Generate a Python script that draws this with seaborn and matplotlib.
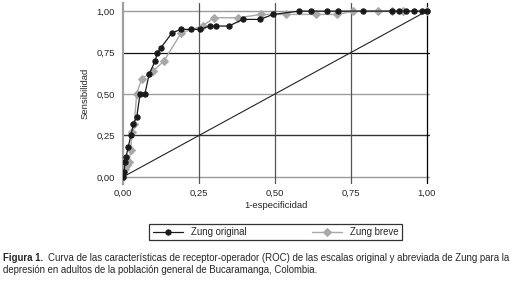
import numpy as np
import pandas as pd
import matplotlib
matplotlib.use("Agg")
import matplotlib.pyplot as plt
import seaborn as sns

# ROC points (1-especificidad, sensibilidad)
fpr_original = [0.0, 0.003, 0.007, 0.010, 0.017, 0.026, 0.034, 0.045, 0.045, 0.056, 0.072,
                0.086, 0.106, 0.113, 0.125, 0.162, 0.192, 0.223, 0.253, 0.286, 0.307, 0.349,
                0.394, 0.451, 0.494, 0.580, 0.618, 0.673, 0.708, 0.790, 0.884, 0.909, 0.933,
                0.958, 0.983, 1.0]
sens_original = [0.0, 0.03, 0.09, 0.12, 0.18, 0.25, 0.32, 0.35, 0.37, 0.50, 0.50,
                 0.62, 0.70, 0.75, 0.78, 0.87, 0.89, 0.89, 0.89, 0.91, 0.91, 0.91,
                 0.95, 0.95, 0.98, 1.0, 1.0, 1.0, 1.0, 1.0, 1.0, 1.0, 1.0,
                 1.0, 1.0, 1.0]

fpr_breve = [0.0, 0.005, 0.012, 0.020, 0.025, 0.030, 0.037, 0.045, 0.061, 0.100, 0.135,
             0.192, 0.262, 0.299, 0.379, 0.455, 0.536, 0.637, 0.706, 0.758, 0.840, 0.884,
             0.922, 1.0]
sens_breve = [0.0, 0.05, 0.07, 0.09, 0.16, 0.27, 0.32, 0.50, 0.59, 0.64, 0.70,
              0.87, 0.91, 0.96, 0.96, 0.98, 0.98, 0.98, 0.98, 1.0, 1.0, 1.0,
              1.0, 1.0]

ticks = [0.0, 0.25, 0.5, 0.75, 1.0]
tick_labels = ["0,00", "0,25", "0,50", "0,75", "1,00"]

df_orig = pd.DataFrame({"x": fpr_original, "y": sens_original})
df_brev = pd.DataFrame({"x": fpr_breve, "y": sens_breve})

sns.set_style("white")
plt.rcParams["font.family"] = ["Liberation Sans", "DejaVu Sans"]

fig = plt.figure(figsize=(5.13, 2.82), dpi=100)
ax = fig.add_axes([0.2398, 0.349, 0.598, 0.641])

# reference diagonal
ax.plot([0, 1], [0, 1], color="#222222", lw=0.8, zorder=2)

sns.lineplot(data=df_brev, x="x", y="y", sort=False, ax=ax, color="#a8a8a8",
             marker="D", markersize=4.2, markeredgecolor="#a8a8a8", lw=1.0,
             label="Zung breve", zorder=4)
sns.lineplot(data=df_orig, x="x", y="y", sort=False, ax=ax, color="#1a1a1a",
             marker="o", markersize=3.8, markeredgecolor="#1a1a1a", lw=0.9,
             label="Zung original", zorder=5)

ax.set_xlim(0, 1.01)
ax.set_ylim(-0.04, 1.05)
ax.set_xticks(ticks)
ax.set_xticklabels(tick_labels)
ax.set_yticks(ticks)
ax.set_yticklabels(tick_labels)
ax.tick_params(axis="y", length=5, width=0.8, color="black", labelsize=6.8, pad=1)
ax.tick_params(axis="x", length=3, width=0.5, color="#bbbbbb", labelsize=6.8, pad=1)

# grid lines with differing tones, as in the scanned original
h_colors = {0.0: "#9a9a9a", 0.25: "#333333", 0.5: "#a0a0a0", 0.75: "#111111", 1.0: "#9a9a9a"}
for yv, c in h_colors.items():
    ax.axhline(yv, xmin=0, xmax=1, color=c, lw=1.0 if c != "#111111" else 0.9, zorder=1)
v_colors = {0.25: "#555555", 0.5: "#555555", 0.75: "#555555", 1.0: "#000000"}
for xv, c in v_colors.items():
    ax.axvline(xv, color=c, lw=0.9, zorder=1)

for s in ["top", "right", "bottom"]:
    ax.spines[s].set_visible(False)
ax.spines["left"].set_color("#a0a0a0")
ax.spines["left"].set_linewidth(1.6)

ax.set_xlabel("1-especificidad", fontsize=6.8, labelpad=2)
ax.set_ylabel("Sensibilidad", fontsize=6.8, labelpad=5)

handles, labels = ax.get_legend_handles_labels()
ax.get_legend().remove()
order = [labels.index("Zung original"), labels.index("Zung breve")]
leg = fig.legend([handles[i] for i in order], [labels[i] for i in order],
                 loc="center", bbox_to_anchor=(0.537, 0.177), ncol=2,
                 fontsize=6.9, frameon=True, fancybox=False, edgecolor="black",
                 columnspacing=6.8, handlelength=3.2, handletextpad=0.8,
                 borderpad=0.35, borderaxespad=0)
leg.get_frame().set_linewidth(0.9)

fig.text(0.006, 0.085, "Figura 1.", fontsize=6.9, fontweight="bold", ha="left", va="center")
fig.text(0.094, 0.085,
         "Curva de las características de receptor-operador (ROC) de las escalas original y abreviada de Zung para la",
         fontsize=6.9, ha="left", va="center")
fig.text(0.006, 0.042, "depresión en adultos de la población general de Bucaramanga, Colombia.",
         fontsize=6.9, ha="left", va="center")

fig.savefig("out.png", dpi=100)
